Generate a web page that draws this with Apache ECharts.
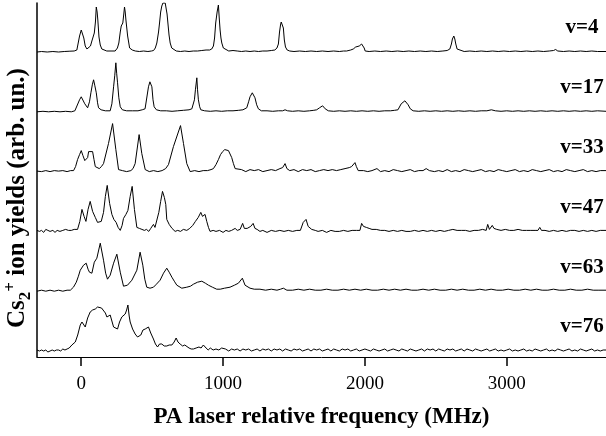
<!DOCTYPE html>
<html>
<head>
<meta charset="utf-8">
<script src="https://cdn.jsdelivr.net/npm/echarts@6/dist/echarts.min.js"></script>
<style>
html,body{margin:0;padding:0;background:#fff;}
#chart{width:606px;height:436px;}
</style>
</head>
<body>
<div id="chart"></div>
<script>
// x tick labels (MHz)
const freqTicks = [0, 1000, 2000, 3000];
// vibrational level labels, top to bottom
const levels = ['v=4', 'v=17', 'v=33', 'v=47', 'v=63', 'v=76'];

// spectra: [frequency (MHz), signal (arb.)]
const v4 = [[-312,0],[-280,0.5],[-240,0],[-200,0.5],[-160,0],[-120,0.5],[-80,0.8],[-50,1],[-31,2],[-12,16],[0,22],[9,21],[18,14],[28,6],[40,3],[52,3],[65,6],[75,11],[92,19],[100,30],[106,45],[112,40],[117,32],[125,15],[134,7],[145,3],[157,2],[180,1],[210,1],[239,1],[255,4],[265,9],[275,20],[282,26],[293,29],[300,38],[305,45],[310,40],[315,32],[327,16],[341,4],[360,2],[381,1],[410,0.5],[440,1],[470,0.5],[495,1],[510,1.5],[522,4],[533,9],[545,20],[552,29],[560,40],[568,46],[576,49],[585,48],[592,49],[599,47],[605,38],[611,29],[619,17],[627,9],[638,4],[650,2],[670,1],[700,0.5],[730,1],[760,0.5],[790,1],[820,1],[850,1.5],[880,2],[905,2],[920,3],[932,6],[940,14],[948,29],[958,40],[967,47],[973,34],[979,22],[985,14],[991,9],[1002,4],[1014,2],[1040,1],[1070,1.5],[1100,1],[1130,0.5],[1160,1],[1190,0.5],[1220,1],[1250,0.5],[1280,1],[1310,1],[1340,1.5],[1365,2],[1380,4],[1390,8],[1398,20],[1405,27],[1410,30],[1415,32],[1420,28],[1425,24],[1432,12],[1440,5],[1452,2],[1470,1],[1500,0.5],[1540,1],[1580,0.5],[1620,1],[1660,0.5],[1700,1],[1740,0.5],[1780,1],[1820,0.5],[1850,1],[1871,1],[1900,2],[1918,3],[1935,5],[1946,6],[1960,6],[1977,8],[1983,7],[1988,9],[1995,4],[2002,1],[2030,0.5],[2070,1],[2110,0.5],[2150,1],[2190,0.5],[2230,1],[2270,0.5],[2310,1],[2350,0.5],[2390,1],[2430,0.5],[2470,1],[2510,0.5],[2550,1],[2580,1.5],[2599,3],[2610,8],[2617,13],[2627,16],[2634,13],[2641,8],[2650,3],[2664,1],[2700,0.5],[2740,1],[2780,0.5],[2820,1],[2860,0.5],[2900,1],[2940,0.5],[2980,1],[3020,0.5],[3060,1],[3100,0.5],[3140,1],[3180,0.5],[3220,1],[3260,0.5],[3300,1],[3330,1.5],[3345,2.5],[3360,1],[3400,0.5],[3440,1],[3480,0.5],[3520,1],[3560,0.5],[3600,1],[3640,0.5],[3700,0.5]];

const v17 = [[-312,0],[-270,0.5],[-230,0],[-190,0.5],[-150,0],[-110,0.5],[-70,0],[-45,1],[-31,1],[-12,12],[0,15],[12,13],[25,8],[45,4],[58,10],[68,19],[78,27],[87,32],[96,26],[106,19],[115,9],[122,4],[140,2],[170,1],[204,1],[216,8],[228,25],[236,36],[244,49],[250,38],[256,29],[265,14],[275,5],[290,2],[320,1],[360,1],[400,1],[430,2],[450,3],[462,5],[474,25],[484,30],[491,28],[498,25],[506,12],[514,5],[530,2],[560,1],[600,1],[640,0.5],[680,1],[720,1.5],[760,2],[780,3],[791,5],[798,12],[805,22],[815,34],[820,22],[826,12],[835,5],[843,2],[870,1],[910,0.5],[950,1],[990,0.5],[1030,1],[1070,1],[1110,1.5],[1140,2],[1167,4],[1180,10],[1190,15],[1206,19],[1215,17],[1225,14],[1237,7],[1249,3],[1270,1],[1310,1],[1350,0.5],[1390,1],[1420,1],[1437,2],[1455,1],[1490,0.5],[1530,1],[1570,0.5],[1610,1],[1640,1.5],[1660,2],[1680,4],[1702,6],[1720,3],[1742,1],[1780,0.5],[1820,1],[1860,0.5],[1900,1],[1940,0.5],[1980,1],[2020,0.5],[2060,1],[2100,0.5],[2140,1],[2180,1],[2210,1.5],[2233,2],[2256,8],[2270,10],[2282,11],[2294,9],[2305,7],[2320,3],[2340,1],[2380,0.5],[2420,1],[2460,0.5],[2500,1],[2540,0.5],[2580,1],[2620,0.5],[2660,1],[2700,0.5],[2740,1],[2780,0.5],[2820,1],[2860,1],[2892,2],[2920,1],[2960,0.5],[3000,1],[3040,0.5],[3080,1],[3120,0.5],[3160,1],[3200,0.5],[3240,1],[3280,0.5],[3320,1],[3360,0.5],[3400,1],[3440,0.5],[3480,1],[3520,0.5],[3560,1],[3600,0.5],[3640,1],[3700,0.5]];

const v33 = [[-312,0.5],[-280,0],[-250,1],[-220,0],[-190,1],[-160,0.5],[-130,1],[-100,0],[-75,1],[-54,1],[-40,5],[-26,12],[-12,17],[0,21],[12,16],[25,11],[35,9],[45,14],[52,20],[66,21],[80,20],[90,12],[99,5],[113,3],[127,3],[142,5],[157,8],[192,28],[221,48],[244,22],[263,2],[290,1],[320,0],[350,1],[365,3],[380,8],[408,37],[427,18],[451,2],[480,0],[510,1],[540,0],[570,1],[595,3],[615,7],[650,25],[700,46],[721,28],[744,8],[768,0],[800,1],[830,0],[860,1],[890,1],[915,2],[932,3],[950,7],[967,12],[982,17],[997,20],[1012,22],[1026,22],[1038,21],[1049,20],[1061,14],[1073,8],[1085,3],[1096,1],[1130,2],[1160,0],[1190,2],[1220,1],[1250,2],[1280,0],[1310,1],[1340,2],[1370,1],[1401,3],[1420,4],[1437,8],[1450,3],[1470,1],[1500,2],[1530,0],[1560,2],[1590,1],[1620,2],[1650,0],[1680,1],[1710,2],[1740,1],[1770,2],[1800,1],[1830,2],[1860,3],[1890,4],[1906,5],[1920,7],[1930,9],[1940,5],[1953,1],[1990,1],[2020,0],[2050,1],[2085,3],[2110,0],[2140,1],[2170,0],[2200,2],[2230,1],[2260,0],[2290,1],[2320,2],[2350,0],[2380,1],[2410,1],[2432,3],[2455,1],[2490,0],[2520,1],[2550,0],[2580,2],[2610,0],[2640,1],[2670,0],[2700,2],[2730,1],[2760,0],[2790,1],[2820,2],[2850,0],[2880,1],[2910,0],[2940,2],[2970,1],[3000,0],[3030,1],[3060,2],[3090,0],[3120,1],[3150,0],[3180,2],[3210,1],[3240,0],[3270,1],[3300,2],[3330,0],[3360,1],[3390,0],[3420,2],[3450,1],[3480,0],[3510,1],[3540,2],[3570,0],[3600,1],[3630,0],[3660,1],[3700,1]];

const v47 = [[-312,1],[-295,0],[-280,1],[-265,-1],[-250,2],[-235,1],[-220,0],[-200,1],[-185,-1],[-170,1],[-150,0],[-130,1],[-110,2],[-90,1],[-70,1],[-50,2],[-26,2],[-10,10],[5,22],[20,15],[33,10],[48,22],[63,30],[80,20],[99,14],[115,9],[129,7],[141,10],[153,9],[157,19],[170,35],[183,46],[200,28],[216,17],[230,12],[246,9],[260,4],[275,1],[288,6],[298,13],[315,17],[329,21],[345,35],[359,45],[375,22],[392,4],[410,3],[428,2],[445,1],[460,2],[476,0],[490,3],[509,7],[520,4],[533,6],[547,19],[560,30],[573,40],[586,34],[596,27],[603,12],[620,7],[640,3],[662,0],[680,1],[700,0],[720,2],[744,1],[765,3],[786,6],[805,10],[825,14],[843,19],[855,15],[861,15],[873,17],[885,10],[897,4],[908,0],[930,1],[950,0],[975,1],[1000,-1],[1020,1],[1040,0],[1060,1],[1085,3],[1100,1],[1120,2],[1138,8],[1150,3],[1170,3],[1195,5],[1212,8],[1225,3],[1240,2],[1260,0],[1280,1],[1310,-1],[1340,1],[1370,0],[1400,1],[1430,0],[1460,1],[1490,0],[1520,1],[1545,1],[1565,9],[1585,12],[1600,5],[1625,2],[1650,1],[1670,0],[1700,1],[1730,-1],[1760,1],[1790,0],[1820,0],[1850,1],[1880,0],[1910,1],[1940,1],[1965,1],[1977,8],[1990,5],[2010,4],[2030,3],[2050,2],[2080,2],[2110,1],[2140,1],[2170,0],[2200,1],[2230,0],[2260,1],[2290,0],[2320,0],[2350,1],[2380,0],[2410,1],[2440,0],[2470,1],[2500,0],[2530,1],[2560,0],[2590,1],[2620,2],[2650,1],[2680,1],[2710,1],[2740,0],[2770,1],[2800,1],[2830,2],[2855,1],[2866,7],[2878,2],[2890,2],[2898,6],[2910,3],[2930,2],[2960,1],[2990,2],[3020,1],[3050,1],[3080,2],[3110,1],[3140,1],[3170,1],[3200,1],[3220,1],[3233,4],[3245,1],[3270,1],[3300,0],[3330,1],[3360,0],[3390,1],[3420,0],[3450,1],[3480,1],[3510,0],[3540,1],[3570,0],[3600,1],[3630,0],[3660,1],[3700,1]];

const v63 = [[-312,0],[-280,1],[-250,0],[-220,1],[-190,0],[-160,1],[-130,0],[-100,1],[-77,1],[-55,4],[-35,9],[-20,15],[-7,21],[16,26],[35,28],[48,22],[58,19],[75,18],[92,29],[110,33],[134,48],[157,31],[172,18],[185,12],[204,16],[228,28],[251,37],[275,19],[298,5],[326,6],[357,11],[392,21],[415,39],[434,26],[448,12],[462,4],[485,3],[509,4],[530,7],[556,11],[580,18],[603,23],[620,19],[639,14],[656,10],[674,6],[709,3],[744,4],[770,5],[791,7],[820,9],[850,10],[875,8],[897,6],[925,4],[955,2],[980,2],[1010,3],[1049,4],[1080,6],[1108,8],[1136,13],[1155,6],[1190,3],[1220,2],[1260,2],[1300,1],[1340,2],[1380,1],[1405,2],[1425,3],[1450,1],[1490,1],[1530,2],[1570,1],[1610,2],[1650,1],[1690,1],[1730,2],[1770,1],[1810,1],[1850,2],[1890,1],[1930,2],[1970,1],[2010,2],[2050,1],[2090,1],[2130,2],[2170,1],[2210,2],[2250,1],[2290,2],[2330,1],[2370,1],[2410,2],[2450,1],[2490,2],[2530,1],[2570,1],[2610,2],[2650,1],[2690,2],[2730,1],[2770,1],[2810,2],[2850,1],[2890,2],[2930,1],[2970,1],[3010,2],[3050,1],[3090,1],[3130,2],[3170,1],[3210,2],[3250,1],[3290,1],[3330,2],[3370,1],[3410,1],[3450,2],[3490,1],[3530,1],[3570,2],[3610,1],[3650,1],[3700,1]];

const v76 = [[-312,1],[-295,0],[-280,1],[-265,0],[-250,1],[-235,-1],[-220,0],[-205,1],[-190,0],[-175,1],[-160,1],[-145,0],[-130,2],[-115,1],[-100,2],[-85,3],[-75,2],[-66,6],[-55,4],[-42,9],[-25,16],[-7,26],[5,29],[16,27],[28,24],[45,33],[63,39],[80,41],[99,42],[115,44],[129,45],[143,43],[157,41],[170,38],[181,34],[192,36],[204,36],[216,30],[228,24],[240,22],[256,22],[270,29],[286,34],[300,36],[310,37],[320,41],[329,46],[338,35],[345,29],[362,22],[380,17],[397,14],[410,16],[420,16],[435,21],[451,22],[474,24],[490,18],[509,12],[523,7],[538,4],[552,7],[568,7],[585,5],[603,5],[620,6],[639,6],[655,9],[669,13],[682,9],[697,7],[715,5],[730,6],[744,4],[760,3],[775,2],[791,2],[810,3],[830,4],[845,3],[861,6],[880,3],[895,1],[910,3],[930,1],[950,2],[970,1],[990,3],[1017,2],[1040,0],[1060,2],[1080,1],[1100,2],[1120,0],[1140,2],[1160,1],[1180,2],[1200,0],[1220,1],[1240,2],[1260,0],[1280,2],[1300,1],[1320,2],[1340,0],[1360,2],[1380,1],[1400,2],[1420,0],[1440,2],[1460,1],[1480,0],[1500,2],[1520,1],[1540,2],[1560,0],[1580,1],[1600,2],[1620,0],[1640,2],[1660,1],[1680,2],[1700,0],[1720,1],[1740,2],[1760,0],[1780,2],[1800,1],[1820,0],[1840,2],[1860,1],[1880,2],[1900,0],[1920,1],[1940,2],[1960,0],[1980,1],[2000,2],[2020,1],[2040,0],[2060,2],[2080,1],[2100,0],[2120,1],[2140,2],[2160,0],[2180,1],[2200,2],[2220,1],[2240,0],[2260,2],[2280,1],[2300,0],[2320,2],[2340,1],[2360,0],[2380,1],[2400,2],[2420,0],[2440,2],[2460,1],[2480,2],[2500,0],[2520,2],[2540,1],[2560,0],[2580,2],[2600,1],[2620,2],[2640,0],[2660,1],[2680,2],[2700,0],[2720,2],[2740,1],[2760,0],[2780,2],[2800,1],[2820,0],[2840,1],[2860,2],[2880,0],[2900,1],[2920,2],[2940,0],[2960,1],[2980,0],[3000,1],[3020,2],[3040,0],[3060,1],[3080,0],[3100,1],[3120,2],[3140,0],[3160,1],[3180,0],[3200,2],[3220,1],[3240,0],[3260,1],[3280,2],[3300,0],[3320,1],[3340,0],[3360,2],[3380,1],[3400,0],[3420,1],[3440,2],[3460,0],[3480,1],[3500,0],[3520,2],[3540,1],[3560,0],[3580,1],[3600,2],[3620,0],[3640,1],[3660,0],[3680,1],[3700,1]];

const spectra = [v4, v17, v33, v47, v63, v76];

const FONT = '"Liberation Serif", "Times New Roman", serif';
const STEP = 59.8, BASE = 6, LABEL_X = 3531, LABEL_DY = 24;

const series = spectra.map((d, i) => {
  const off = BASE + STEP * (spectra.length - 1 - i);
  return {
    type: 'line',
    name: levels[i],
    data: d.map(p => [p[0], p[1] + off]),
    showSymbol: false,
    symbol: 'none',
    lineStyle: { color: '#000', width: 1 },
    silent: true,
    markPoint: {
      symbol: 'circle',
      symbolSize: 0,
      silent: true,
      label: {
        show: true,
        position: 'inside',
        formatter: levels[i],
        color: '#000',
        fontFamily: FONT,
        fontWeight: 'bold',
        fontSize: 21
      },
      data: [{ coord: [LABEL_X, off + LABEL_DY] }]
    }
  };
});

const chart = echarts.init(document.getElementById('chart'), null, { renderer: 'canvas' });
chart.setOption({
  animation: false,
  backgroundColor: '#fff',
  grid: { left: 37, right: 0, top: 3, bottom: 79, containLabel: false, outerBoundsMode: 'none' },
  xAxis: {
    type: 'value',
    min: -312,
    max: 3700,
    name: 'PA laser relative frequency (MHz)',
    nameLocation: 'middle',
    nameGap: 49,
    nameTextStyle: { fontFamily: FONT, fontWeight: 'bold', fontSize: 23, color: '#000' },
    axisLine: { show: true, lineStyle: { color: '#000', width: 1 } },
    axisTick: { show: true, length: 9, customValues: freqTicks, lineStyle: { color: '#000', width: 1.5 } },
    axisLabel: { show: true, margin: 18, customValues: freqTicks, formatter: v => String(v), fontFamily: FONT, fontSize: 19, color: '#000' },
    splitLine: { show: false }
  },
  yAxis: {
    type: 'value',
    min: 0,
    max: 354,
    name: '{a|Cs}{b|2}{c|+}{a| ion yields (arb. un.)}',
    nameLocation: 'middle',
    nameRotate: 90,
    nameGap: 3,
    nameTextStyle: {
      color: '#000',
      padding: [0, 36, 0, 0],
      rich: {
        a: { fontFamily: FONT, fontWeight: 'bold', fontSize: 25, color: '#000', lineHeight: 32, verticalAlign: 'middle' },
        b: { fontFamily: FONT, fontWeight: 'bold', fontSize: 17, color: '#000', lineHeight: 32, verticalAlign: 'bottom' },
        c: { fontFamily: FONT, fontWeight: 'bold', fontSize: 17, color: '#000', lineHeight: 32, verticalAlign: 'top' }
      }
    },
    axisLine: { show: true, onZero: false, lineStyle: { color: '#000', width: 1.5 } },
    axisTick: { show: false },
    axisLabel: { show: false },
    splitLine: { show: false }
  },
  series: series
});
</script>
</body>
</html>
